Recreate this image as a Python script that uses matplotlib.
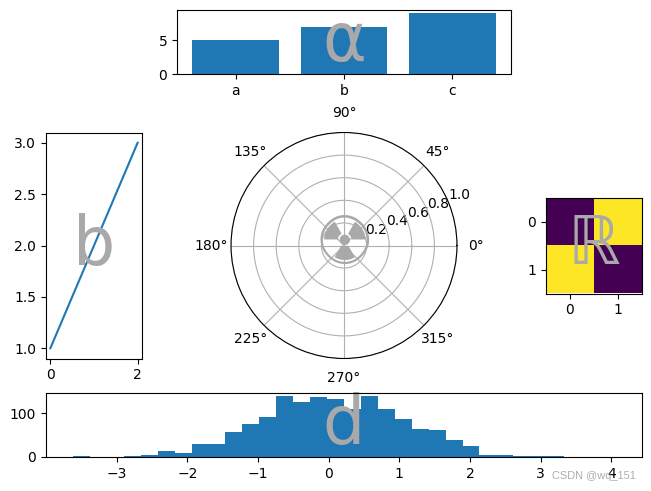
import matplotlib
matplotlib.use('Agg')
import matplotlib.pyplot as plt
import numpy as np

bar_labels = ['a', 'b', 'c']
bar_values = [5, 7, 9]
line_x = [0, 1, 2]
line_y = [1, 2, 3]
image_cells = [[0, 1], [1, 0]]
hist_start = -3.615
hist_width = 0.2395
hist_counts = [2, 0, 0, 2, 5, 14, 9, 30, 30, 57, 76, 91, 139, 126, 137, 132, 110,
               139, 110, 87, 64, 62, 39, 25, 5, 5, 2, 2, 2, 0, 0, 1]
mark_color = 'darkgrey'
W, H = 651.0, 491.0


def px_axes(left, top, right, bottom, **kw):
    # pixel box from the top left corner of the picture
    return fig.add_axes([left / W, 1 - bottom / H, (right - left) / W, (bottom - top) / H], **kw)


def big_letter(ax, s):
    # under the spines, over the bars
    ax.text(0.5, 0.5, s, transform=ax.transAxes, ha='center', va='center',
            fontsize=48, color=mark_color, zorder=2.4)


fig = plt.figure(figsize=(W / 100, H / 100), dpi=100)

# top bars
ax1 = px_axes(177, 10, 511, 74)
ax1.bar(bar_labels, bar_values)
big_letter(ax1, '\u03b1')

# left line
ax2 = px_axes(46, 132.5, 142, 358.5)
ax2.plot(line_x, line_y)
big_letter(ax2, 'b')

# polar in the middle
ax3 = px_axes(231, 132.5, 457, 358.5, projection='polar')
big_letter(ax3, '\u2622')

# image on the right
ax4 = px_axes(546, 197.5, 642, 293.5)
ax4.imshow(image_cells)
big_letter(ax4, '\u211d')

# bottom histogram
ax5 = px_axes(46, 393, 642, 457)
edges = hist_start + hist_width * np.arange(len(hist_counts) + 1)
ax5.hist(edges[:-1], bins=edges, weights=hist_counts)
big_letter(ax5, 'd')

fig.text(636 / W, 1 - 476 / H, 'CSDN @wq_151', ha='right', va='center', fontsize=7.9,
         family='Liberation Sans', color='#999999', alpha=0.8)

fig.savefig('out.png', dpi=100)
